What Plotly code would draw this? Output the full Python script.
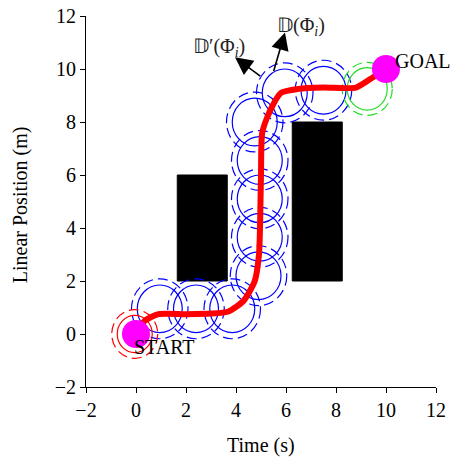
import plotly.graph_objects as go

# Data
path_x = [0.0, 0.35, 0.9, 2.0, 3.0, 3.7, 4.3, 4.75, 4.92, 4.96, 4.98, 5.0, 5.05, 5.35, 5.8, 6.5, 7.5, 8.8, 9.5, 10.0]
path_y = [0.0, 0.5, 0.75, 0.75, 0.77, 0.85, 1.25, 2.0, 3.0, 4.0, 5.0, 6.0, 7.6, 8.4, 9.1, 9.25, 9.3, 9.3, 9.7, 10.0]

endpoint_x = [0, 10]
endpoint_y = [0, 10]
endpoint_labels = ["START", "GOAL"]

obstacle_x0 = [1.65, 6.25]
obstacle_x1 = [3.65, 8.25]
obstacle_y0 = [2.0, 2.0]
obstacle_y1 = [6.0, 8.0]

blue_cx = [0.95, 2.4, 3.85, 4.9, 4.95, 4.95, 4.95, 4.75, 5.95, 7.5]
blue_cy = [0.95, 0.95, 0.95, 2.2, 3.65, 5.1, 6.55, 8.0, 9.1, 9.2]
green_cx = [9.25]
green_cy = [9.25]
red_cx = [-0.05]
red_cy = [0.0]

x_title = "Time (s)"
y_title = "Linear Position (m)"

FONT = "Liberation Serif"
FS = 20

fig = go.Figure()

shapes = []
for x0, x1, y0, y1 in zip(obstacle_x0, obstacle_x1, obstacle_y0, obstacle_y1):
    shapes.append(dict(type="rect", xref="x", yref="y", x0=x0, x1=x1, y0=y0, y1=y1,
                       fillcolor="black", line=dict(color="black", width=1), layer="below"))


def add_region(cxs, cys, color, r_in, r_out):
    for cx, cy in zip(cxs, cys):
        shapes.append(dict(type="circle", xref="x", yref="y",
                           x0=cx - r_in, x1=cx + r_in, y0=cy - r_in, y1=cy + r_in,
                           line=dict(color=color, width=1.2), layer="below"))
        shapes.append(dict(type="circle", xref="x", yref="y",
                           x0=cx - r_out, x1=cx + r_out, y0=cy - r_out, y1=cy + r_out,
                           line=dict(color=color, width=1.2, dash="10px,5px"), layer="below"))


add_region(blue_cx, blue_cy, "blue", 0.9, 1.13)
add_region(green_cx, green_cy, "#22dd22", 0.8, 1.0)
add_region(red_cx, red_cy, "red", 0.7, 0.92)

fig.add_trace(go.Scatter(x=path_x, y=path_y, mode="lines",
                         line=dict(color="red", width=6, shape="spline", smoothing=0.6),
                         hoverinfo="skip", showlegend=False))
fig.add_trace(go.Scatter(x=endpoint_x, y=endpoint_y, mode="markers",
                         marker=dict(color="magenta", size=28),
                         hoverinfo="skip", showlegend=False))

annotations = [
    dict(x=endpoint_x[0] - 0.15, y=endpoint_y[0] - 0.5, text=endpoint_labels[0], showarrow=False,
         xanchor="left", font=dict(family=FONT, size=FS, color="black")),
    dict(x=endpoint_x[1] + 0.27, y=endpoint_y[1] + 0.3, text=endpoint_labels[1], showarrow=False,
         xanchor="left", font=dict(family=FONT, size=FS, color="black")),
    dict(x=3.96, y=10.44, ax=5.03, ay=9.69, axref="x", ayref="y", xref="x", yref="y",
         text="", showarrow=True, arrowhead=2, arrowsize=2.2, arrowwidth=1.6, arrowcolor="black",
         standoff=0, startstandoff=0),
    dict(x=5.96, y=11.38, ax=5.49, ay=9.87, axref="x", ayref="y", xref="x", yref="y",
         text="", showarrow=True, arrowhead=2, arrowsize=2.2, arrowwidth=1.6, arrowcolor="black",
         standoff=0, startstandoff=0),
    dict(x=3.32, y=10.83, text="𝔻′(Φ<sub><i>i</i></sub>)", showarrow=False,
         font=dict(family=FONT, size=FS, color="#222")),
    dict(x=6.6, y=11.6, text="𝔻(Φ<sub><i>i</i></sub>)", showarrow=False,
         font=dict(family=FONT, size=FS, color="#222")),
    dict(xref="paper", yref="paper", x=0.5, y=0, yshift=-58, text=x_title, showarrow=False,
         xanchor="center", yanchor="middle", font=dict(family=FONT, size=FS, color="black")),
    dict(xref="paper", yref="paper", x=0, y=0.49, xshift=-66, text=y_title, showarrow=False,
         textangle=-90, xanchor="center", yanchor="middle", font=dict(family=FONT, size=FS, color="black")),
]

axis_common = dict(range=[-2, 12], dtick=2, showgrid=False, zeroline=False,
                   showline=True, linecolor="black", linewidth=1,
                   ticks="outside", ticklen=5, tickcolor="black",
                   tickfont=dict(family=FONT, size=FS, color="black"), automargin=False)

fig.update_layout(
    width=452, height=457,
    margin=dict(l=86, r=16, t=16, b=70),
    plot_bgcolor="white", paper_bgcolor="white",
    shapes=shapes, annotations=annotations,
    xaxis=dict(**axis_common),
    yaxis=dict(**axis_common),
    showlegend=False,
)

fig.write_html("out.html")
